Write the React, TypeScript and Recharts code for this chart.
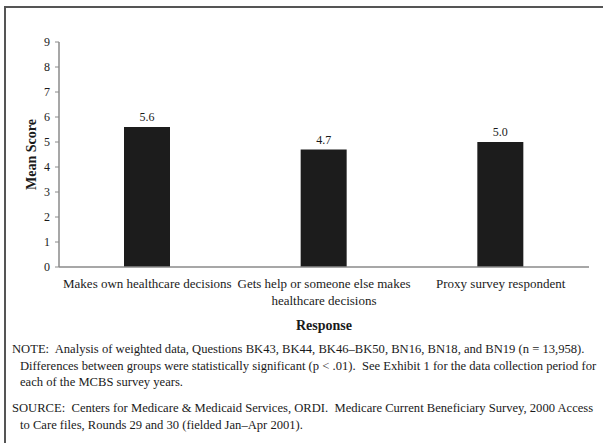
import React from 'react';
import { BarChart, Bar, XAxis, YAxis, LabelList } from 'recharts';

const categories = [
  'Makes own healthcare decisions',
  'Gets help or someone else makes healthcare decisions',
  'Proxy survey respondent',
];
const meanScores = [5.6, 4.7, 5.0];
const yTicks = [0, 1, 2, 3, 4, 5, 6, 7, 8, 9];
const groupEdges = [0, 1, 2, 3];

const noteLines = [
  'NOTE:  Analysis of weighted data, Questions BK43, BK44, BK46\u2013BK50, BN16, BN18, and BN19 (n = 13,958).',
  'Differences between groups were statistically significant (p < .01).  See Exhibit 1 for the data collection period for',
  'each of the MCBS survey years.',
];
const sourceLines = [
  'SOURCE:  Centers for Medicare & Medicaid Services, ORDI.  Medicare Current Beneficiary Survey, 2000 Access',
  'to Care files, Rounds 29 and 30 (fielded Jan\u2013Apr 2001).',
];

const FONT = '"Liberation Serif", "Times New Roman", serif';
const INK = '#1a1a1a';
const AXIS = '#8a8a8a';

const data = categories.map((name, i) => ({ name, value: meanScores[i] }));

// word-wrap a label to the category band width
let ctx: CanvasRenderingContext2D | null = null;
const wrap = (label: string, maxWidth: number, font: string) => {
  if (!ctx) ctx = document.createElement('canvas').getContext('2d');
  if (!ctx) return [label];
  ctx.font = font;
  const lines: string[] = [];
  let cur = '';
  label.split(' ').forEach((w) => {
    const next = cur ? cur + ' ' + w : w;
    if (cur && ctx!.measureText(next).width > maxWidth) {
      lines.push(cur);
      cur = w;
    } else {
      cur = next;
    }
  });
  if (cur) lines.push(cur);
  return lines;
};

const CategoryTick = (props: any) => {
  const { x, y, payload } = props;
  const lines = wrap(payload.value, 174, '13px "Liberation Serif"');
  return (
    <text x={x} y={y} textAnchor="middle" fill={INK} style={{ fontFamily: FONT, fontSize: 13 }}>
      {lines.map((l, i) => (
        <tspan key={i} x={x} dy={i === 0 ? 9 : 17}>
          {l}
        </tspan>
      ))}
    </text>
  );
};

const ValueTick = (props: any) => {
  const { x, y, payload } = props;
  return (
    <text x={x} y={y} dy={4} textAnchor="end" fill={INK} style={{ fontFamily: FONT, fontSize: 12 }}>
      {payload.value}
    </text>
  );
};

const Footnote = ({ lines, top }: { lines: string[]; top: number }) => (
  <div style={{ position: 'absolute', left: 12, top, fontSize: 12.6, lineHeight: '16.5px', color: INK }}>
    {lines.map((line, i) => (
      <div key={i} style={{ whiteSpace: 'pre', paddingLeft: i === 0 ? 0 : 8 }}>
        {line}
      </div>
    ))}
  </div>
);

export default function App() {
  return (
    <div
      style={{
        position: 'absolute',
        left: 0,
        top: 0,
        width: 603,
        height: 443,
        background: '#fff',
        fontFamily: FONT,
        overflow: 'hidden',
      }}
    >
      <div
        style={{
          position: 'absolute',
          left: 4,
          top: 6,
          width: 603,
          height: 443,
          borderTop: '2px solid #555',
          borderLeft: '2px solid #555',
        }}
      />
      <div style={{ position: 'absolute', left: 0, top: 0, fontFamily: FONT }}>
        <BarChart
          width={603}
          height={340}
          data={data}
          margin={{ top: 42, right: 14, bottom: 10, left: 0 }}
          style={{ fontFamily: FONT }}
        >
          <XAxis
            xAxisId="edges"
            type="number"
            domain={[0, 3]}
            ticks={groupEdges}
            tick={false}
            axisLine={false}
            tickLine={{ stroke: AXIS }}
            tickSize={4}
            height={0}
          />
          <XAxis
            dataKey="name"
            height={63}
            interval={0}
            tickSize={0}
            tickMargin={12}
            axisLine={{ stroke: AXIS, strokeWidth: 1.5 }}
            tickLine={false}
            tick={<CategoryTick />}
            label={{
              value: 'Response',
              position: 'insideBottom',
              offset: 0,
              style: { fontFamily: FONT, fontSize: 14, fontWeight: 'bold', fill: INK },
            }}
          />
          <YAxis
            width={59}
            domain={[0, 9]}
            ticks={yTicks}
            interval={0}
            tickSize={4}
            tickMargin={5}
            axisLine={{ stroke: AXIS, strokeWidth: 1.5 }}
            tickLine={{ stroke: AXIS }}
            tick={<ValueTick />}
            label={{
              value: 'Mean Score',
              angle: -90,
              position: 'insideLeft',
              offset: 31,
              style: { fontFamily: FONT, fontSize: 14, fontWeight: 'bold', fill: INK, textAnchor: 'middle' },
            }}
          />
          <Bar dataKey="value" fill="#1c1c1c" barSize={46} isAnimationActive={false}>
            <LabelList
              dataKey="value"
              position="top"
              offset={6}
              formatter={(v: any) => Number(v).toFixed(1)}
              style={{ fontFamily: FONT, fontSize: 12, fill: INK }}
            />
          </Bar>
        </BarChart>
      </div>
      <Footnote lines={noteLines} top={341} />
      <Footnote lines={sourceLines} top={400} />
    </div>
  );
}
